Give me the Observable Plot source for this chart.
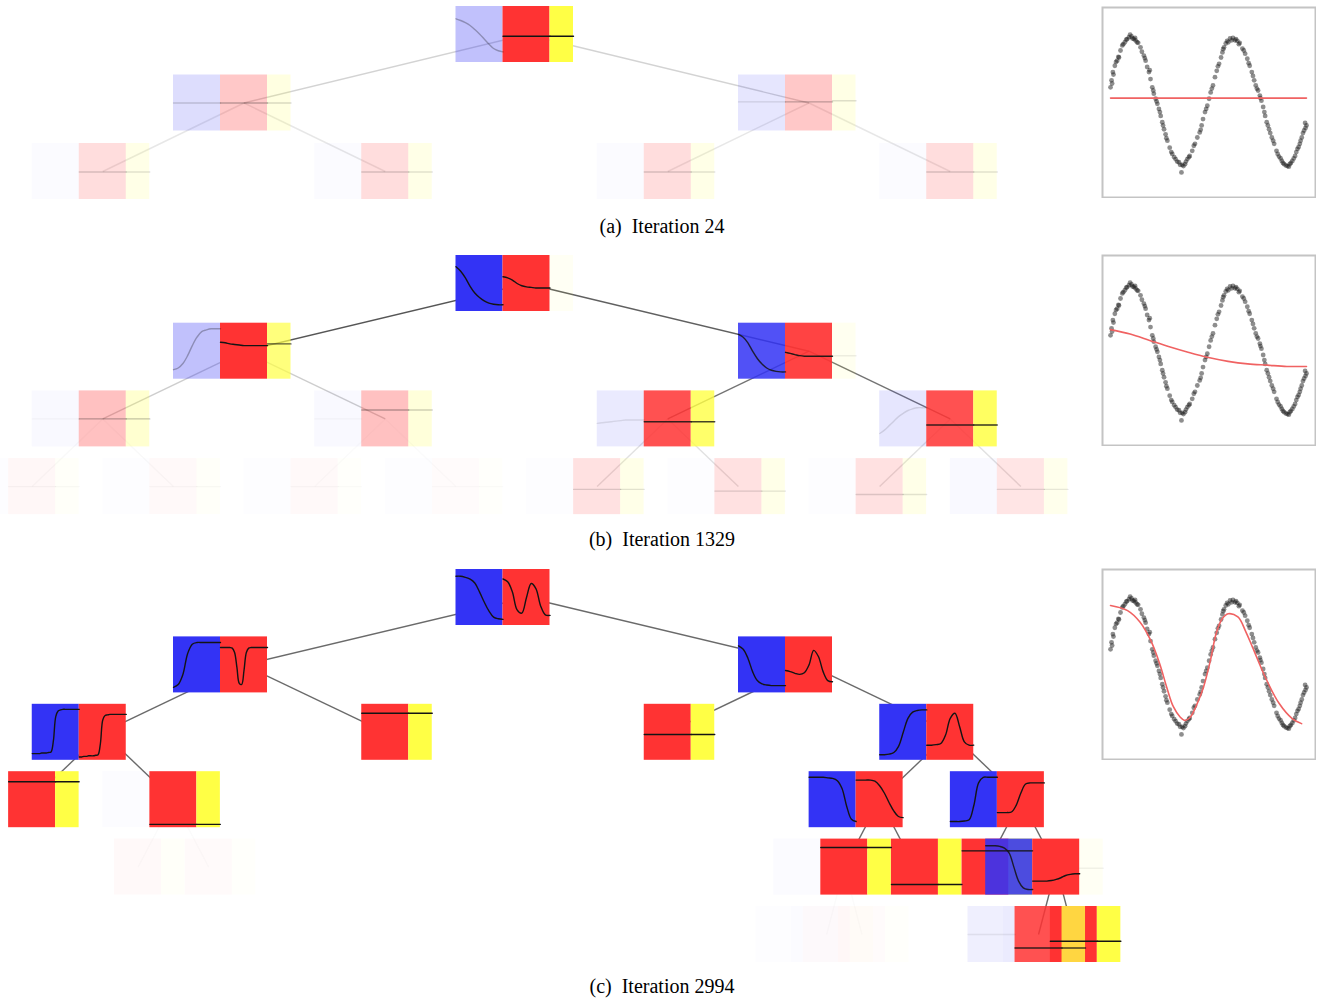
<!DOCTYPE html>
<html><head><meta charset="utf-8">
<script src="https://cdn.jsdelivr.net/npm/d3@7"></script>
<script src="https://cdn.jsdelivr.net/npm/@observablehq/plot@0.6"></script>
<style>
body{margin:0;background:#fff;}
#root{position:relative;width:1324px;height:999px;overflow:hidden;background:#fff;}
.abs{position:absolute;}
.cap{position:absolute;left:0;width:1324px;text-align:center;font-family:"Liberation Serif","Times New Roman",serif;font-size:20px;line-height:20px;white-space:pre;color:#000;}
</style></head><body><div id="root"></div>
<script>
// ---------- captions ----------
const captions = ["(a)  Iteration 24", "(b)  Iteration 1329", "(c)  Iteration 2994"];

// ---------- panel (a): nodes as heap ids (1 = root, children 2k, 2k+1) ----------
const nodesA = [1, 2, 3, 4, 5, 6, 7];
const blueOpA = [0.3, 0.17, 0.12, 0.02, 0.02, 0.02, 0.02];
const redOpA = [1, 0.27, 0.27, 0.17, 0.17, 0.17, 0.17];
const yellowOpA = [1, 0.16, 0.14, 0.13, 0.13, 0.13, 0.13];
const edgeOpA = [0, 0.22, 0.22, 0.12, 0.12, 0.12, 0.12];
const blueCurveA = [
  [0.78, 0.75, 0.71, 0.66, 0.59, 0.51, 0.42, 0.33, 0.25, 0.21, 0.19],
  [0.5, 0.5], [0.52, 0.52], null, null, null, null];
const redCurveA = [[0.47, 0.47], [0.5, 0.5], [0.52, 0.52], [0.49, 0.49], [0.49, 0.49], [0.49, 0.49], [0.49, 0.49]];
const yellowLineA = [0.47, 0.5, 0.54, 0.49, 0.49, 0.49, 0.49];

// ---------- panel (b) ----------
const nodesB = [1, 2, 3, 4, 5, 6, 7, 8, 9, 10, 11, 12, 13, 14, 15];
const blueOpB = [1, 0.3, 0.85, 0.03, 0.03, 0.1, 0.12, 0.01, 0.01, 0.01, 0.01, 0.01, 0.01, 0.01, 0.03];
const redOpB = [1, 1, 0.92, 0.3, 0.3, 0.85, 0.85, 0.04, 0.03, 0.03, 0.02, 0.15, 0.15, 0.15, 0.13];
const yellowOpB = [0.06, 0.7, 0.08, 0.25, 0.2, 0.8, 0.85, 0.03, 0.03, 0.02, 0.02, 0.12, 0.12, 0.12, 0.1];
const edgeOpB = [0, 0.85, 0.8, 0.25, 0.25, 0.7, 0.7, 0.03, 0.03, 0.02, 0.02, 0.15, 0.15, 0.15, 0.15];
const blueCurveB = [
  [0.8, 0.72, 0.6, 0.45, 0.33, 0.25, 0.19, 0.15, 0.13, 0.12, 0.12],
  [0.17, 0.2, 0.28, 0.42, 0.6, 0.75, 0.85, 0.88, 0.9, 0.9, 0.9],
  [0.8, 0.75, 0.65, 0.5, 0.37, 0.27, 0.2, 0.16, 0.14, 0.13, 0.13],
  [0.5, 0.5], [0.5, 0.5],
  [0.42, 0.43, 0.44, 0.45, 0.46, 0.47, 0.48, 0.48, 0.48, 0.48, 0.48],
  [0.24, 0.3, 0.38, 0.46, 0.54, 0.6, 0.65, 0.68, 0.7, 0.7, 0.7],
  null, null, null, null, null, null, null, null];
const redCurveB = [
  [0.62, 0.6, 0.56, 0.5, 0.46, 0.44, 0.43, 0.42, 0.42, 0.42, 0.42],
  [0.66, 0.65, 0.63, 0.62, 0.61, 0.6, 0.6, 0.6, 0.6, 0.6, 0.6],
  [0.48, 0.46, 0.44, 0.42, 0.41, 0.41, 0.41, 0.41, 0.41, 0.41, 0.41],
  [0.5, 0.5], [0.66, 0.66], [0.45, 0.45], [0.39, 0.39],
  [0.5, 0.5], [0.5, 0.5], [0.5, 0.5], [0.5, 0.5],
  [0.45, 0.45], [0.42, 0.42], [0.36, 0.36], [0.45, 0.45]];
const yellowLineB = [null, 0.63, 0.42, 0.5, 0.66, 0.45, 0.39, 0.5, 0.5, 0.5, 0.5, 0.45, 0.42, 0.36, 0.45];

// ---------- panel (c) (drawing order as in the figure) ----------
const nodesC = [1, 2, 3, 4, 5, 6, 7, 8, 9, 14, 15, 18, 19, 28, 29, 30, 31, 56, 57, 63, 62];
const blueOpC = [1, 1, 1, 1, 0, 0, 1, 0, 0.015, 1, 1, 0, 0, 0.02, 0, 0, 0.88, 0.01, 0.01, 0.02, 0.08];
const redOpC = [1, 1, 1, 1, 1, 1, 1, 1, 1, 1, 1, 0.03, 0.025, 1, 1, 1, 1, 0.02, 0.02, 1, 0.85];
const yellowOpC = [0, 0, 0, 0, 1, 1, 0, 1, 1, 0, 0, 0.03, 0.025, 1, 1, 1, 0.06, 0.02, 0.02, 1, 0.8];
const edgeOpC = [0, 0.75, 0.75, 0.75, 0.75, 0.75, 0.75, 0.75, 0.75, 0.75, 0.75, 0.02, 0.02, 0.75, 0.75, 0.75, 0.75, 0.02, 0.02, 0.75, 0.75];
const blueCurveC = [
  [0.88, 0.88, 0.86, 0.83, 0.76, 0.6, 0.42, 0.26, 0.15, 0.12, 0.11],
  [0.1, 0.15, 0.33, 0.7, 0.87, 0.9, 0.9, 0.9, 0.9, 0.9, 0.9],
  [0.84, 0.78, 0.62, 0.38, 0.22, 0.16, 0.14, 0.13, 0.13, 0.13, 0.13],
  [0.12, 0.12, 0.12, 0.12, 0.13, 0.13, 0.13, 0.14, 0.15, 0.35, 0.78, 0.88, 0.9, 0.91, 0.91, 0.91, 0.91, 0.91, 0.91, 0.91, 0.91],
  null, null,
  [0.1, 0.1, 0.11, 0.14, 0.25, 0.5, 0.75, 0.86, 0.89, 0.9, 0.9],
  null, null,
  [0.9, 0.9, 0.9, 0.9, 0.89, 0.88, 0.84, 0.7, 0.38, 0.15, 0.11],
  [0.11, 0.11, 0.11, 0.12, 0.14, 0.4, 0.8, 0.9, 0.9, 0.9, 0.9],
  null, null, null, null, null,
  [0.88, 0.88, 0.88, 0.87, 0.84, 0.75, 0.5, 0.25, 0.13, 0.1, 0.1],
  null, null, null, [0.5, 0.5]];
const redCurveC = [
  [0.83, 0.78, 0.6, 0.28, 0.22, 0.5, 0.75, 0.66, 0.35, 0.19, 0.18],
  [0.81, 0.81, 0.81, 0.81, 0.81, 0.8, 0.72, 0.45, 0.17, 0.15, 0.4, 0.72, 0.8, 0.81, 0.81, 0.81, 0.81, 0.81, 0.81, 0.81, 0.81],
  [0.4, 0.38, 0.35, 0.33, 0.36, 0.5, 0.76, 0.65, 0.38, 0.22, 0.2],
  [0.06, 0.06, 0.07, 0.07, 0.08, 0.08, 0.08, 0.09, 0.1, 0.3, 0.72, 0.8, 0.81, 0.82, 0.82, 0.82, 0.82, 0.82, 0.82, 0.82, 0.82],
  [0.84, 0.84], [0.46, 0.46],
  [0.27, 0.27, 0.28, 0.3, 0.45, 0.75, 0.84, 0.6, 0.33, 0.27, 0.27],
  [0.82, 0.82], [0.06, 0.06],
  [0.85, 0.85, 0.85, 0.85, 0.83, 0.75, 0.62, 0.45, 0.3, 0.2, 0.18],
  [0.27, 0.27, 0.27, 0.28, 0.4, 0.62, 0.78, 0.8, 0.8, 0.8, 0.8],
  null, null,
  [0.85, 0.85], [0.19, 0.19], [0.79, 0.79],
  [0.25, 0.25, 0.25, 0.25, 0.26, 0.28, 0.31, 0.35, 0.37, 0.38, 0.38],
  null, null, [0.38, 0.38], [0.26, 0.26]];
const yellowLineC = [null, null, null, null, 0.84, 0.46, null, 0.82, 0.06, null, null, null, null, 0.85, 0.19, 0.79, 0.48, null, null, 0.38, 0.26];

// ---------- scatter data (shared by the three panels) ----------
const scatterX = [0, 0.005, 0.012, 0.022, 0.034, 0.043, 0.051, 0.060, 0.073, 0.085, 0.094, 0.107, 0.119, 0.128, 0.141, 0.153, 0.170, 0.179, 0.187, 0.196, 0.204, 0.213, 0.221, 0.230, 0.239, 0.247, 0.256, 0.264, 0.273, 0.281, 0.290, 0.302, 0.315, 0.332, 0.349, 0.366, 0.380, 0.392, 0.404, 0.417, 0.431, 0.443, 0.455, 0.465, 0.472, 0.482, 0.494, 0.503, 0.511, 0.523, 0.533, 0.542, 0.554, 0.564, 0.571, 0.579, 0.588, 0.601, 0.618, 0.635, 0.647, 0.659, 0.673, 0.687, 0.698, 0.710, 0.721, 0.733, 0.741, 0.753, 0.762, 0.770, 0.779, 0.789, 0.797, 0.809, 0.823, 0.835, 0.847, 0.860, 0.874, 0.886, 0.903, 0.915, 0.928, 0.942, 0.954, 0.966, 0.976, 0.988, 1.0,
  0.008, 0.015, 0.028, 0.04, 0.065, 0.08, 0.1, 0.112, 0.125, 0.135, 0.16, 0.175, 0.2, 0.218, 0.235, 0.252, 0.268, 0.285, 0.31, 0.325, 0.34, 0.355, 0.362, 0.372, 0.385, 0.4, 0.425, 0.46, 0.488, 0.517, 0.548, 0.575, 0.595, 0.61, 0.625, 0.64, 0.655, 0.68, 0.705, 0.727, 0.747, 0.765, 0.785, 0.803, 0.815, 0.83, 0.853, 0.868, 0.88, 0.895, 0.91, 0.92, 0.935, 0.948, 0.96, 0.97, 0.982, 0.995, 0.993];
const scatterY = [0.22, 0.33, 0.46, 0.56, 0.64, 0.69, 0.80, 0.88, 0.93, 0.98, 1.01, 1.02, 0.98, 0.96, 0.92, 0.85, 0.72, 0.64, 0.54, 0.46, 0.35, 0.22, 0.12, 0.04, -0.04, -0.12, -0.23, -0.33, -0.44, -0.52, -0.62, -0.73, -0.83, -0.91, -0.96, -1.00, -0.99, -0.91, -0.86, -0.78, -0.67, -0.57, -0.49, -0.38, -0.28, -0.17, -0.07, 0.04, 0.14, 0.25, 0.38, 0.48, 0.59, 0.69, 0.77, 0.85, 0.91, 0.93, 0.96, 0.96, 0.95, 0.92, 0.83, 0.75, 0.67, 0.56, 0.46, 0.33, 0.25, 0.17, 0.09, 0.01, -0.09, -0.23, -0.33, -0.44, -0.57, -0.67, -0.78, -0.87, -0.94, -0.99, -1.02, -0.99, -0.94, -0.86, -0.75, -0.67, -0.57, -0.46, -0.38,
  0.28, 0.42, 0.62, 0.7, 0.9, 0.97, 1.05, 0.99, 1.0, 0.93, 0.78, 0.68, 0.49, 0.17, 0.0, -0.17, -0.38, -0.58, -0.8, -0.88, -0.95, -1.0, -1.12, -1.02, -0.95, -0.88, -0.7, -0.45, -0.12, 0.2, 0.55, 0.82, 0.95, 0.99, 1.0, 0.98, 0.9, 0.8, 0.6, 0.4, 0.2, 0.05, -0.17, -0.38, -0.5, -0.62, -0.83, -0.9, -0.97, -1.01, -1.03, -0.97, -0.9, -0.8, -0.72, -0.62, -0.5, -0.42, -0.34];

// fitted curves (red) per panel
const fitAx = [0, 1];
const fitAy = [0.05, 0.05];
const fitBx = [0, 0.1, 0.2, 0.3, 0.4, 0.5, 0.6, 0.7, 0.8, 0.9, 1.0];
const fitBy = [0.31, 0.24, 0.14, 0.04, -0.05, -0.13, -0.19, -0.23, -0.25, -0.27, -0.27];
const fitCx = [0, 0.087, 0.15, 0.205, 0.25, 0.287, 0.32, 0.356, 0.38, 0.407, 0.44, 0.474, 0.51, 0.539, 0.57, 0.6, 0.65, 0.69, 0.725, 0.79, 0.86, 0.927, 0.975];
const fitCy = [0.91, 0.83, 0.65, 0.36, 0.0, -0.38, -0.68, -0.85, -0.9, -0.85, -0.65, -0.38, 0.05, 0.47, 0.7, 0.78, 0.73, 0.5, 0.25, -0.22, -0.63, -0.87, -0.95];

// ---------- drawing ----------
const COLORS = {blue: "#3333f5", red: "#ff3333", yellow: "#ffff45"};
const BOX_U = 47 / 1130, YEL_U = 23.5 / 1130, BOX_H = 56;
const root = document.getElementById("root");

function heapPos(k) {
  const d = Math.floor(Math.log2(k));
  const i = k - 2 ** d;
  return {d, u: (2 * i + 1) / 2 ** (d + 1)};
}

function treePlot(p) {
  const H = BOX_H / p.step;
  const rects = [], lines = [], edges = [];
  p.nodes.forEach((k, j) => {
    const {d, u} = heapPos(k);
    const yl = p.yellowLine[j];
    const parts = [
      {kind: "blue", x1: u - BOX_U, x2: u, op: p.blueOp[j], curve: p.blueCurve[j]},
      {kind: "red", x1: u, x2: u + BOX_U, op: p.redOp[j], curve: p.redCurve[j]},
      {kind: "yellow", x1: u + BOX_U, x2: u + BOX_U + YEL_U, op: p.yellowOp[j], curve: yl == null ? null : [yl, yl]}
    ];
    parts.forEach(pt => {
      if (pt.op > 0) rects.push({x1: pt.x1, x2: pt.x2, y1: d, y2: d + H, fill: COLORS[pt.kind], op: pt.op});
      if (pt.op > 0 && pt.curve) {
        const n = pt.curve.length;
        pt.curve.forEach((v, m) => lines.push({id: k + "-" + pt.kind, x: pt.x1 + (pt.x2 - pt.x1) * m / (n - 1), y: d + (1 - v) * H, op: pt.op}));
      }
    });
    if (k > 1 && p.edgeOp[j] > 0) {
      const q = heapPos(Math.floor(k / 2));
      edges.push({x1: q.u + BOX_U / 2, y1: q.d + H / 2, x2: u + BOX_U / 2, y2: d + H / 2, op: p.edgeOp[j]});
    }
  });
  return Plot.plot({
    width: 1130, height: p.height, margin: 0,
    x: {domain: [0, 1], range: [-62.5, 1067.5], axis: null},
    y: {domain: [0, 1], range: [p.top0, p.top0 + p.step], axis: null},
    color: {type: "identity"},
    opacity: {type: "identity"},
    marks: [
      Plot.link(edges, {x1: "x1", y1: "y1", x2: "x2", y2: "y2", stroke: "#383838", strokeOpacity: "op", strokeWidth: 1.4}),
      Plot.rect(rects, {x1: "x1", x2: "x2", y1: "y1", y2: "y2", fill: "fill", fillOpacity: "op"}),
      Plot.line(lines, {x: "x", y: "y", z: "id", stroke: "#141414", strokeOpacity: "op", strokeWidth: 1.4, curve: "catmull-rom"})
    ]
  });
}

function scatterPlot(fx, fy) {
  const pts = scatterX.map((x, i) => ({x, y: scatterY[i]}));
  const fit = fx.map((x, i) => ({x, y: fy[i]}));
  return Plot.plot({
    width: 215, height: 192, margin: 1,
    x: {domain: [-0.041, 1.046], axis: null},
    y: {domain: [-1.515, 1.477], axis: null},
    marks: [
      Plot.frame({stroke: "#c4c4c4", strokeWidth: 2}),
      Plot.dot(pts, {x: "x", y: "y", r: 2.4, fill: "#1e1e1e", fillOpacity: 0.5, stroke: "none"}),
      Plot.line(fit, {x: "x", y: "y", stroke: "#f06262", strokeWidth: 1.6, curve: "catmull-rom"})
    ]
  });
}

function place(el, left, top) {
  el.classList.add("abs");
  el.style.left = left + "px";
  el.style.top = top + "px";
  root.appendChild(el);
}

const panels = [
  {nodes: nodesA, blueOp: blueOpA, redOp: redOpA, yellowOp: yellowOpA, edgeOp: edgeOpA, blueCurve: blueCurveA, redCurve: redCurveA, yellowLine: yellowLineA,
   svgTop: 0, top0: 6, step: 68.5, height: 205, fx: fitAx, fy: fitAy, scTop: 6, capTop: 216},
  {nodes: nodesB, blueOp: blueOpB, redOp: redOpB, yellowOp: yellowOpB, edgeOp: edgeOpB, blueCurve: blueCurveB, redCurve: redCurveB, yellowLine: yellowLineB,
   svgTop: 240, top0: 15, step: 67.7, height: 280, fx: fitBx, fy: fitBy, scTop: 254, capTop: 529},
  {nodes: nodesC, blueOp: blueOpC, redOp: redOpC, yellowOp: yellowOpC, edgeOp: edgeOpC, blueCurve: blueCurveC, redCurve: redCurveC, yellowLine: yellowLineC,
   svgTop: 555, top0: 14, step: 67.4, height: 415, fx: fitCx, fy: fitCy, scTop: 568, capTop: 976}
];

panels.forEach((p, i) => {
  place(treePlot(p), 0, p.svgTop);
  place(scatterPlot(p.fx, p.fy), 1101, p.scTop);
  const cap = document.createElement("div");
  cap.className = "cap";
  cap.style.top = p.capTop + "px";
  cap.textContent = captions[i];
  root.appendChild(cap);
});
</script></body></html>
